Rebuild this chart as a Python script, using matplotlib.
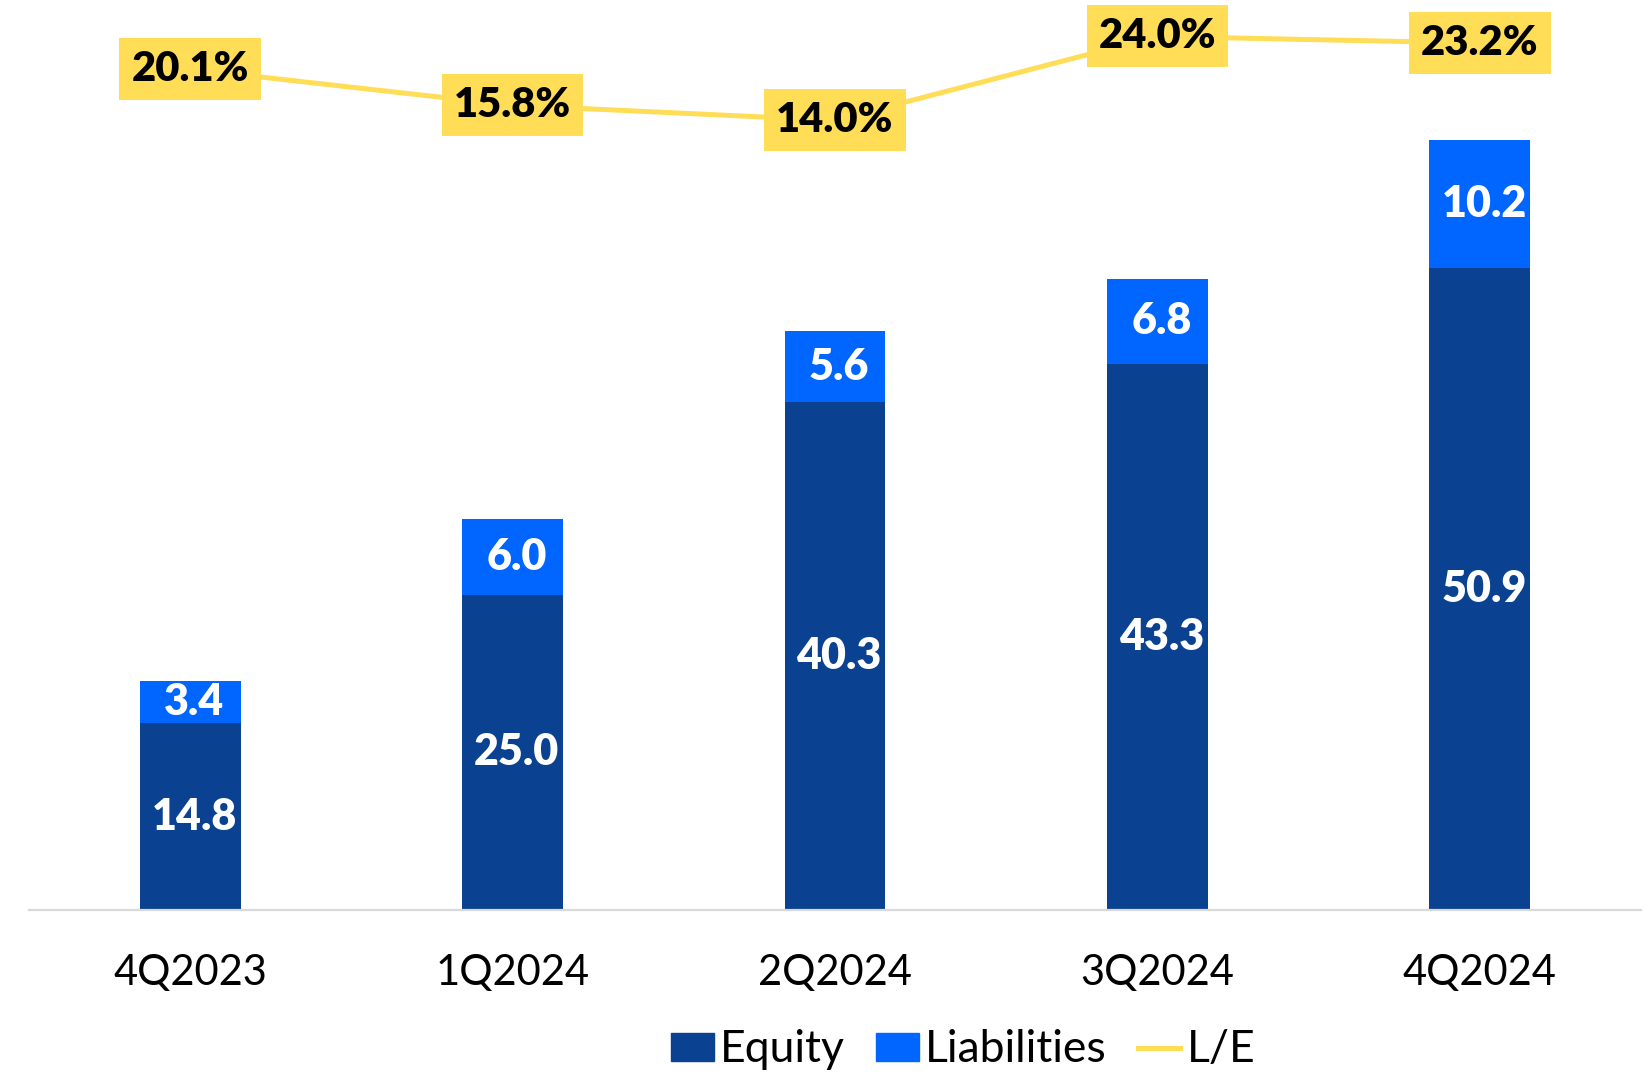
import matplotlib
matplotlib.use("Agg")
import matplotlib.pyplot as plt
from matplotlib.patches import Patch
from matplotlib.lines import Line2D
import numpy as np

# du lieu theo quy
quarters = ["4Q2023", "1Q2024", "2Q2024", "3Q2024", "4Q2024"]
equity = [14.8, 25.0, 40.3, 43.3, 50.9]
liabilities = [3.4, 6.0, 5.6, 6.8, 10.2]
le_ratio = [20.1, 15.8, 14.0, 24.0, 23.2]

c_equity = "#0A4191"
c_liab = "#0066FF"
c_le = "#FFDD57"
font = "Lato"

fig = plt.figure(figsize=(16.47, 10.74), dpi=100)
ax = fig.add_axes([29 / 1647, (1074 - 910) / 1074, (1641 - 29) / 1647, 910 / 1074])

x = np.arange(len(quarters))
w = 0.313
ax.bar(x, equity, w, color=c_equity, zorder=2)
ax.bar(x, liabilities, w, bottom=equity, color=c_liab, zorder=2)

for i in range(len(x)):
    ax.annotate(f"{equity[i]:.1f}", (x[i], equity[i] / 2), xytext=(3, 0), textcoords="offset points",
                ha="center", va="center", color="white", fontsize=31, fontweight="heavy",
                family=font, zorder=3)
    ax.annotate(f"{liabilities[i]:.1f}", (x[i], equity[i] + liabilities[i] / 2), xytext=(3, 0),
                textcoords="offset points", ha="center", va="center", color="white",
                fontsize=31, fontweight="heavy", family=font, zorder=3)

ax.set_xlim(-0.5, len(x) - 0.5)
ax.set_ylim(0, 72.2)
ax.set_xticks(x)
ax.set_xticklabels(quarters, fontsize=30, family=font)
ax.tick_params(axis="x", length=0, pad=32)
ax.set_yticks([])
for s in ["top", "right", "left"]:
    ax.spines[s].set_visible(False)
ax.spines["bottom"].set_color("#D9D9D9")
ax.spines["bottom"].set_linewidth(1.6)

# duong ty le L/E tren truc phu
ax2 = ax.twinx()
ax2.plot(x, le_ratio, color=c_le, lw=3.6, zorder=2)
ax2.set_ylim(-80, 28.33)
ax2.axis("off")
for i in range(len(x)):
    ax2.text(x[i], le_ratio[i], f"{le_ratio[i]:.1f}%", ha="center", va="center",
             fontsize=30, fontweight="heavy", family=font, color="black", zorder=4,
             bbox=dict(boxstyle="square,pad=0.29", fc=c_le, ec="none"))

handles = [Patch(color=c_equity, label="Equity"),
           Patch(color=c_liab, label="Liabilities"),
           Line2D([0], [0], color=c_le, lw=3.6, label="L/E")]
fig.legend(handles=handles, loc="center", bbox_to_anchor=(0.585, 24 / 1074), ncol=3,
           frameon=False, prop={"family": font, "size": 32}, handlelength=0.95,
           handleheight=0.59, handletextpad=0.15, columnspacing=0.7, borderaxespad=0,
           borderpad=0)

fig.savefig("out.png", dpi=100)
